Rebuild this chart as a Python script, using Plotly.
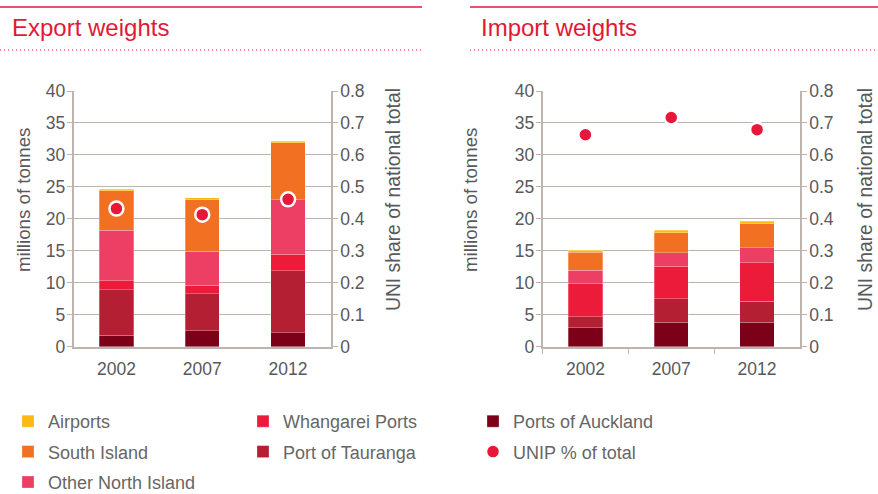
import plotly.graph_objects as go

years = ['2002', '2007', '2012']

# millions of tonnes
export_auckland = [1.8, 2.5, 2.2]
export_tauranga = [7.1, 5.8, 9.7]
export_whangarei = [1.4, 1.3, 2.6]
export_other_ni = [7.9, 5.3, 8.5]
export_south = [6.2, 8.1, 8.9]
export_airports = [0.25, 0.3, 0.25]
export_unip = [0.432, 0.413, 0.461]

import_auckland = [3.0, 3.8, 3.8]
import_tauranga = [1.7, 3.7, 3.3]
import_whangarei = [5.15, 5.1, 6.0]
import_other_ni = [2.1, 2.1, 2.35]
import_south = [2.85, 3.1, 3.8]
import_airports = [0.3, 0.4, 0.4]
import_unip = [0.663, 0.717, 0.679]

# name, colour, legend column, rank within column
series = [
    ('Ports of Auckland', '#7d0019', 'legend3', 1),
    ('Port of Tauranga', '#b51f33', 'legend2', 2),
    ('Whangarei Ports', '#ec1b3a', 'legend2', 1),
    ('Other North Island', '#ed3f63', 'legend', 3),
    ('South Island', '#f27021', 'legend', 2),
    ('Airports', '#fdb913', 'legend', 1),
]
export_vals = [export_auckland, export_tauranga, export_whangarei,
               export_other_ni, export_south, export_airports]
import_vals = [import_auckland, import_tauranga, import_whangarei,
               import_other_ni, import_south, import_airports]

RED = '#e31837'
GREY = '#58595b'
LINE = '#bdb4ad'
FONT = 'Liberation Sans, Arial, sans-serif'

fig = go.Figure()

for (name, color, leg, rank), ev, iv in zip(series, export_vals, import_vals):
    fig.add_trace(go.Bar(x=years, y=ev, name=name, marker_color=color,
                         marker_line=dict(width=0.6, color='rgba(255,255,255,0.45)'),
                         legend=leg, legendgroup=name, legendrank=rank,
                         xaxis='x', yaxis='y'))
    fig.add_trace(go.Bar(x=years, y=iv, name=name, marker_color=color,
                         marker_line=dict(width=0.6, color='rgba(255,255,255,0.45)'),
                         legendgroup=name, showlegend=False, xaxis='x2', yaxis='y3'))

dot = dict(size=14, color='#e8173a', line=dict(width=2.5, color='white'))
fig.add_trace(go.Scatter(x=years, y=export_unip, mode='markers', name='UNIP % of total',
                         marker=dot, legend='legend3', legendgroup='unip', legendrank=2,
                         xaxis='x', yaxis='y2'))
fig.add_trace(go.Scatter(x=years, y=import_unip, mode='markers', name='UNIP % of total',
                         marker=dot, legendgroup='unip', showlegend=False,
                         xaxis='x2', yaxis='y4'))

W, H = 878, 494
ybot = 1 - 346.7 / H
ytop = 1 - 91 / H

tickfont = dict(family=FONT, size=17.5, color=GREY)

left = dict(range=[0, 40], dtick=5, showgrid=True, gridcolor=LINE, gridwidth=1.3,
            showline=True, linecolor=LINE, linewidth=1.5, ticks='outside',
            ticklen=5, tickcolor=LINE, tickfont=tickfont, zeroline=False,
            ticklabelstandoff=-2, domain=[ybot, ytop], fixedrange=True)
right = dict(range=[0, 0.8], dtick=0.1, showgrid=False, showline=True,
             linecolor=LINE, linewidth=1.5, ticks='outside', ticklen=5,
             tickcolor=LINE, tickfont=tickfont, side='right', zeroline=False,
             ticklabelstandoff=-1)
xcommon = dict(showline=True, linecolor=LINE, linewidth=1.5, tickfont=tickfont,
               ticklabelstandoff=6)

legfont = dict(family=FONT, size=18, color='#666666')
leg_y = 1 - 403 / H


def legend_box(xpx):
    return dict(orientation='v', x=xpx / W, y=leg_y, xanchor='left', yanchor='top',
                traceorder='grouped', tracegroupgap=4, font=legfont,
                itemclick=False, itemdoubleclick=False, bgcolor='rgba(0,0,0,0)')


fig.update_layout(
    width=W, height=H,
    margin=dict(l=0, r=0, t=0, b=0, autoexpand=False),
    paper_bgcolor='white', plot_bgcolor='white',
    barmode='stack', bargap=0.6,
    font=dict(family=FONT, color=GREY),
    xaxis=dict(domain=[73.5 / W, 331 / W], anchor='y', **xcommon),
    xaxis2=dict(domain=[542.5 / W, 800 / W], anchor='y3', ticks='outside',
                tickson='boundaries', ticklen=6, tickcolor=LINE, **xcommon),
    yaxis=dict(anchor='x', **left),
    yaxis2=dict(anchor='x', overlaying='y', **right),
    yaxis3=dict(anchor='x2', **left),
    yaxis4=dict(anchor='x2', overlaying='y3', **right),
    legend=legend_box(8),
    legend2=legend_box(243),
    legend3=legend_box(473),
    showlegend=True,
)

# axis titles (placed by hand: they sit above the plot middle in the original)
for text, xpx, size in [('millions of tonnes', 23, 18.7),
                        ('UNI share of national total', 393, 19.3),
                        ('millions of tonnes', 470, 18.7),
                        ('UNI share of national total', 865, 19.3)]:
    fig.add_annotation(text=text, xref='paper', yref='paper', x=xpx / W, y=1 - 200 / H,
                       xanchor='center', yanchor='middle', textangle=-90, showarrow=False,
                       font=dict(family=FONT, size=size, color=GREY))

# header rules and titles
for x0, x1, title, tx in [(0, 422, 'Export weights', 10), (470, 878, 'Import weights', 479)]:
    fig.add_shape(type='line', xref='paper', yref='paper', x0=x0 / W, x1=x1 / W,
                  y0=1 - 7 / H, y1=1 - 7 / H, line=dict(color=RED, width=1.3))
    fig.add_shape(type='line', xref='paper', yref='paper', x0=x0 / W, x1=x1 / W,
                  y0=1 - 50 / H, y1=1 - 50 / H,
                  line=dict(color=RED, width=1.2, dash='1px,3px'))
    fig.add_annotation(text=title, xref='paper', yref='paper', x=tx / W, y=1 - 28 / H,
                       xanchor='left', yanchor='middle', showarrow=False,
                       font=dict(family=FONT, size=24, color=RED))

# the page body has a default 8px margin; remove it so the chart sits at 0,0
fig.write_html('out.html', config={'displayModeBar': False},
               post_script="document.body.style.margin='0';")
